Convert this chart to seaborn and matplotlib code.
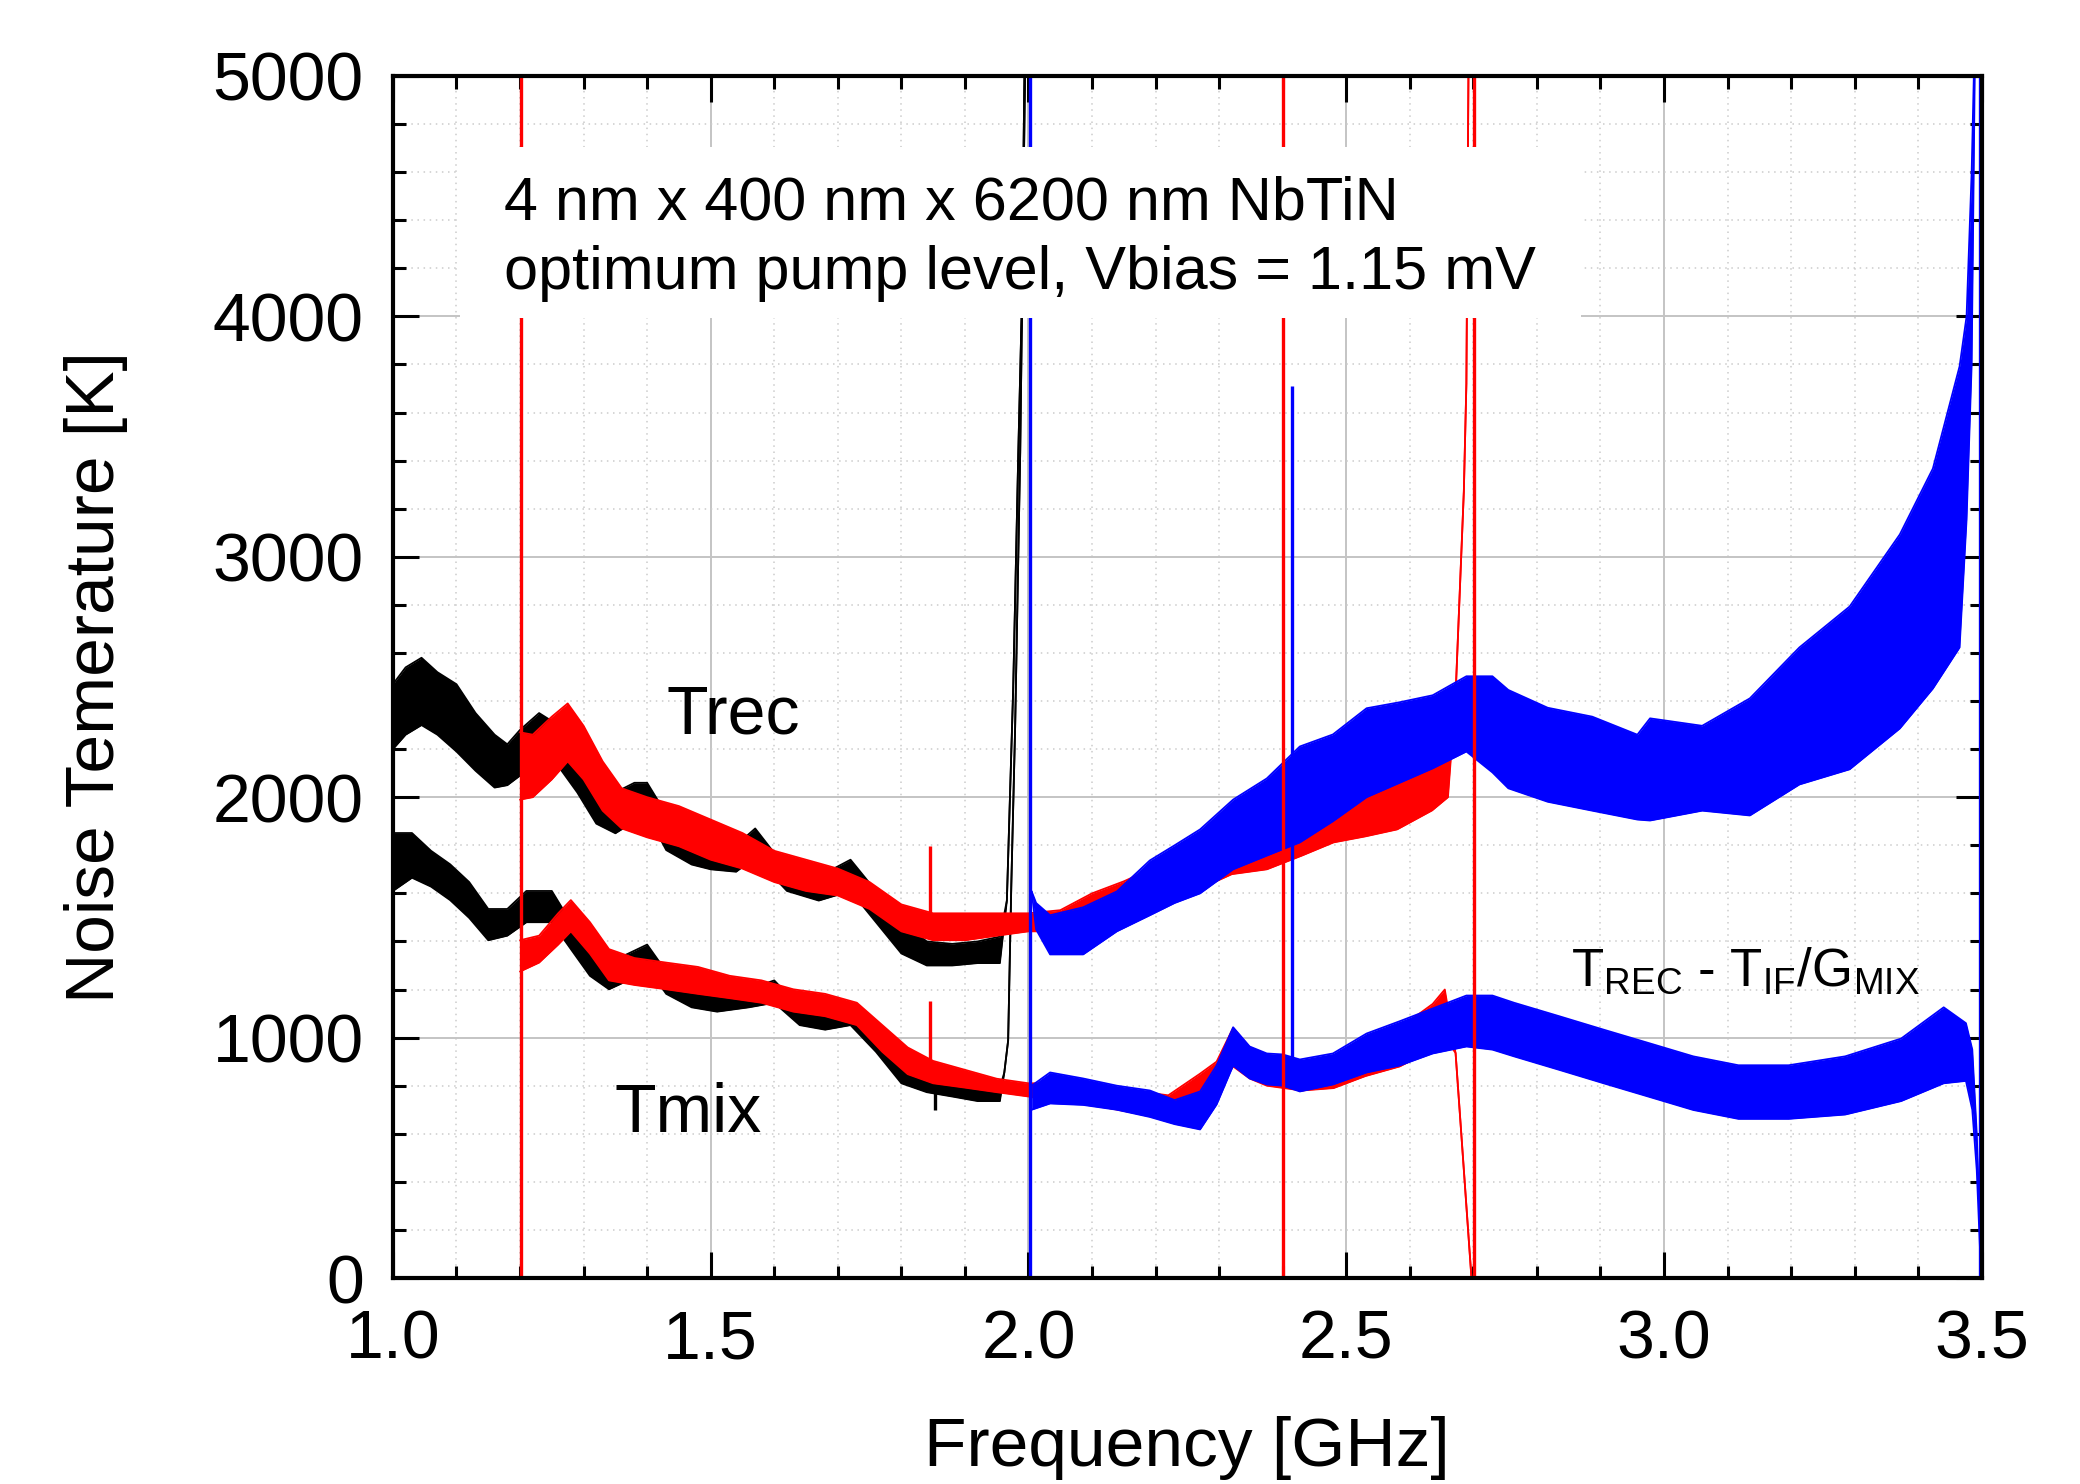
import numpy as np
import pandas as pd
import seaborn as sns
import matplotlib.pyplot as plt
from matplotlib.patches import Rectangle
from matplotlib.ticker import MultipleLocator, FormatStrFormatter

# ---- values (freq in GHz, noise band low/high in K) ----
# black sweep, 1.0 - 2.0 GHz
blk_rec_f = [1.00, 1.02, 1.045, 1.07, 1.10, 1.13, 1.16, 1.18, 1.20, 1.23, 1.26, 1.29, 1.32, 1.35, 1.38,
             1.40, 1.43, 1.47, 1.50, 1.54, 1.57, 1.62, 1.67, 1.72, 1.76, 1.80, 1.84, 1.88, 1.92, 1.955,
             1.966, 1.976, 1.984, 1.989, 1.995]
blk_rec_lo = [2200, 2260, 2300, 2260, 2190, 2110, 2040, 2050, 2090, 2180, 2130, 2020, 1890, 1850, 1900,
              1930, 1780, 1720, 1700, 1690, 1750, 1610, 1570, 1610, 1480, 1350, 1300, 1300, 1310, 1310,
              1570, 2456, 3435, 3988, 5300]
blk_rec_hi = [2470, 2540, 2580, 2520, 2470, 2350, 2260, 2220, 2280, 2350, 2300, 2190, 2070, 2020, 2060,
              2060, 1930, 1830, 1810, 1800, 1870, 1700, 1670, 1740, 1610, 1480, 1400, 1390, 1400, 1420,
              1570, 2456, 3435, 3988, 5300]

blk_mix_f = [1.00, 1.03, 1.06, 1.09, 1.12, 1.15, 1.18, 1.21, 1.25, 1.28, 1.31, 1.34, 1.37, 1.40, 1.43,
             1.47, 1.51, 1.56, 1.60, 1.64, 1.68, 1.72, 1.76, 1.80, 1.84, 1.88, 1.92, 1.955, 1.962, 1.968,
             1.973, 1.979, 1.987, 1.996]
blk_mix_lo = [1610, 1665, 1628, 1572, 1498, 1405, 1424, 1480, 1480, 1368, 1257, 1201, 1238, 1294, 1182,
              1126, 1108, 1126, 1145, 1052, 1033, 1052, 941, 810, 773, 755, 736, 736, 855, 988,
              1637, 2290, 3435, 5300]
blk_mix_hi = [1851, 1851, 1777, 1721, 1647, 1535, 1535, 1610, 1610, 1480, 1368, 1312, 1349, 1387, 1275,
              1219, 1182, 1201, 1238, 1126, 1108, 1145, 1052, 903, 848, 810, 792, 792, 855, 988,
              1637, 2290, 3435, 5300]

# red sweep, 1.2 - 2.7 GHz
red_rec_f = [1.200, 1.22, 1.25, 1.275, 1.30, 1.33, 1.36, 1.40, 1.45, 1.50, 1.55, 1.60, 1.65, 1.70, 1.75,
             1.80, 1.85, 1.90, 1.95, 2.00, 2.05, 2.10, 2.15, 2.20, 2.27, 2.32, 2.375, 2.43, 2.48, 2.53,
             2.58, 2.635, 2.66, 2.672, 2.685, 2.689, 2.693]
red_rec_lo = [1990, 2000, 2074, 2149, 2074, 1944, 1870, 1833, 1796, 1740, 1703, 1647, 1610, 1591, 1535,
              1442, 1405, 1405, 1424, 1442, 1442, 1510, 1550, 1590, 1620, 1680, 1700, 1757, 1812, 1837,
              1866, 1945, 2000, 2424, 3272, 3720, 5300]
red_rec_hi = [2270, 2260, 2335, 2390, 2297, 2149, 2037, 2000, 1963, 1907, 1851, 1777, 1740, 1703, 1647,
              1554, 1517, 1517, 1517, 1517, 1530, 1600, 1650, 1710, 1760, 1820, 1860, 1945, 2000, 2078,
              2103, 2157, 2200, 2424, 3272, 3720, 5300]

red_mix_f = [1.20, 1.23, 1.26, 1.28, 1.31, 1.34, 1.38, 1.43, 1.48, 1.53, 1.58, 1.63, 1.68, 1.73, 1.77,
             1.81, 1.85, 1.90, 1.95, 2.00, 2.05, 2.10, 2.16, 2.22, 2.27, 2.296, 2.322, 2.348, 2.375, 2.43,
             2.48, 2.53, 2.584, 2.636, 2.655, 2.672, 2.685, 2.697]
red_mix_lo = [1275, 1312, 1387, 1442, 1349, 1238, 1219, 1201, 1182, 1164, 1145, 1108, 1089, 1052, 941,
              848, 810, 792, 773, 755, 730, 720, 690, 660, 730, 780, 880, 830, 800, 780,
              790, 840, 880, 950, 1000, 936, 450, 0]
red_mix_hi = [1405, 1424, 1517, 1572, 1480, 1368, 1331, 1312, 1294, 1257, 1238, 1201, 1182, 1145, 1052,
              959, 903, 866, 829, 810, 810, 800, 780, 760, 850, 900, 1040, 960, 930, 900,
              920, 980, 1040, 1140, 1200, 936, 450, 0]

# blue sweep, 2.0 - 3.5 GHz
blue_rec_f = [2.005, 2.012, 2.034, 2.086, 2.139, 2.191, 2.23, 2.27, 2.322, 2.375, 2.427, 2.479, 2.532,
              2.584, 2.636, 2.689, 2.73, 2.755, 2.817, 2.887, 2.958, 2.978, 3.06, 3.135, 3.213, 3.292,
              3.371, 3.423, 3.465, 3.476, 3.484, 3.49]
blue_rec_lo = [1608, 1450, 1346, 1346, 1442, 1509, 1560, 1600, 1700, 1757, 1812, 1900, 2000,
               2060, 2120, 2190, 2103, 2037, 1981, 1944, 1907, 1903, 1944, 1924, 2053, 2116,
               2286, 2452, 2623, 3155, 3800, 5300]
blue_rec_hi = [1608, 1560, 1509, 1542, 1608, 1737, 1800, 1866, 1990, 2078, 2211, 2261, 2370,
               2395, 2424, 2503, 2503, 2446, 2372, 2335, 2260, 2328, 2297, 2411, 2623, 2793,
               3093, 3367, 3792, 4000, 4600, 5300]

blue_mix_f = [2.005, 2.034, 2.086, 2.139, 2.191, 2.23, 2.27, 2.296, 2.322, 2.348, 2.375, 2.40, 2.427,
              2.479, 2.532, 2.584, 2.636, 2.689, 2.73, 2.764, 2.835, 2.905, 2.975, 3.046, 3.117, 3.196,
              3.285, 3.373, 3.44, 3.475, 3.485, 3.492, 3.499]
blue_mix_lo = [700, 726, 720, 700, 670, 640, 618, 722, 884, 830, 805, 800, 776,
               805, 855, 884, 934, 963, 950, 922, 866, 810, 755, 699, 662, 662,
               680, 736, 810, 820, 700, 450, 0]
blue_mix_hi = [800, 855, 830, 800, 780, 740, 776, 884, 1043, 963, 934, 930, 909,
               934, 1017, 1068, 1121, 1175, 1175, 1145, 1089, 1033, 978, 922, 885, 885,
               922, 996, 1126, 1060, 950, 600, 50]

# narrow spikes / band edges
spike_f = [1.201, 2.003, 2.401, 2.701, 3.497, 2.414, 1.845, 1.845, 1.853]
spike_lo = [0, 0, 0, 0, 0, 870, 1480, 848, 700]
spike_hi = [5000, 5000, 5000, 5000, 5000, 3709, 1796, 1154, 790]
spike_run = ['red', 'blue', 'red', 'red', 'blue', 'blue', 'red', 'red', 'black']

colors = {'black': '#000000', 'red': '#ff0000', 'blue': '#0000ff'}

series = [
    ('black', 'Trec', blk_rec_f, blk_rec_lo, blk_rec_hi),
    ('black', 'Tmix', blk_mix_f, blk_mix_lo, blk_mix_hi),
    ('red', 'Trec', red_rec_f, red_rec_lo, red_rec_hi),
    ('red', 'Tmix', red_mix_f, red_mix_lo, red_mix_hi),
    ('blue', 'Trec', blue_rec_f, blue_rec_lo, blue_rec_hi),
    ('blue', 'Tmix', blue_mix_f, blue_mix_lo, blue_mix_hi),
]
df = pd.concat([pd.DataFrame({'freq': f, 'lo': lo, 'hi': hi, 'run': run, 'curve': curve})
                for run, curve, f, lo, hi in series], ignore_index=True)

sns.set_style('ticks')
plt.rcParams['font.family'] = ['Liberation Sans', 'DejaVu Sans']
plt.rcParams['mathtext.fontset'] = 'custom'
plt.rcParams['mathtext.rm'] = 'Liberation Sans'
for key in ['text.color', 'axes.labelcolor', 'xtick.color', 'ytick.color']:
    plt.rcParams[key] = 'black'

fig = plt.figure(figsize=(20.8, 14.84), dpi=100)
ax = fig.add_axes([0.1889, 0.1388, 0.7639, 0.8100])

# draw the noisy bands, one sweep on top of the other
for run, z in [('black', 2), ('red', 3), ('blue', 4)]:
    sub = df[df['run'] == run]
    for curve, g in sub.groupby('curve'):
        ax.fill_between(g['freq'], g['lo'], g['hi'], color=colors[run], lw=0, zorder=z)
    for col in ['lo', 'hi']:
        sns.lineplot(data=sub, x='freq', y=col, units='curve', estimator=None, color=colors[run],
                     lw=1.3, zorder=z, ax=ax, legend=False)

ax.vlines(spike_f, spike_lo, spike_hi, colors=[colors[r] for r in spike_run], lw=2.4, zorder=5)

ax.set_xlim(1.0, 3.5)
ax.set_ylim(0, 5000)
ax.xaxis.set_major_locator(MultipleLocator(0.5))
ax.xaxis.set_minor_locator(MultipleLocator(0.1))
ax.xaxis.set_major_formatter(FormatStrFormatter('%.1f'))
ax.yaxis.set_major_locator(MultipleLocator(1000))
ax.yaxis.set_minor_locator(MultipleLocator(200))

ax.set_axisbelow(True)
ax.grid(which='major', color='#c4c4c4', lw=1.4, ls='-')
ax.grid(which='minor', color='#cccccc', lw=1.1, ls=(0, (1, 3)))

ax.tick_params(which='both', direction='in', top=True, right=True, width=2.2, color='black')
ax.tick_params(which='major', length=19, labelsize=49, labelcolor='black')
ax.tick_params(axis='x', which='major', pad=22)
ax.tick_params(axis='y', which='major', pad=21)
ax.tick_params(which='minor', length=9)
for s in ax.spines.values():
    s.set_linewidth(3)
    s.set_color('black')
    s.set_zorder(8)

ax.set_xlabel('Frequency [GHz]', fontsize=50, color='black')
ax.set_ylabel('Noise Temerature [K]', fontsize=50, color='black')
ax.xaxis.set_label_coords(0.5, -0.115)
ax.yaxis.set_label_coords(-0.167, 0.5)

# white box behind the sample description
ax.add_patch(Rectangle((1.105, 3995), 1.765, 710, facecolor='white', edgecolor='none', zorder=6))
ax.text(1.175, 4404, '4 nm x 400 nm x 6200 nm NbTiN', fontsize=44, va='baseline', zorder=7)
ax.text(1.175, 4116, 'optimum pump level, Vbias = 1.15 mV', fontsize=44, va='baseline', zorder=7)

ax.text(1.43, 2266, 'Trec', fontsize=49, va='baseline', zorder=7)
ax.text(1.349, 609, 'Tmix', fontsize=49, va='baseline', zorder=7)
ax.text(2.854, 1217, r'$\mathregular{T_{REC}}$ - $\mathregular{T_{IF}/G_{MIX}}$', fontsize=38,
        va='baseline', zorder=7)

fig.savefig('out.png', dpi=100)
